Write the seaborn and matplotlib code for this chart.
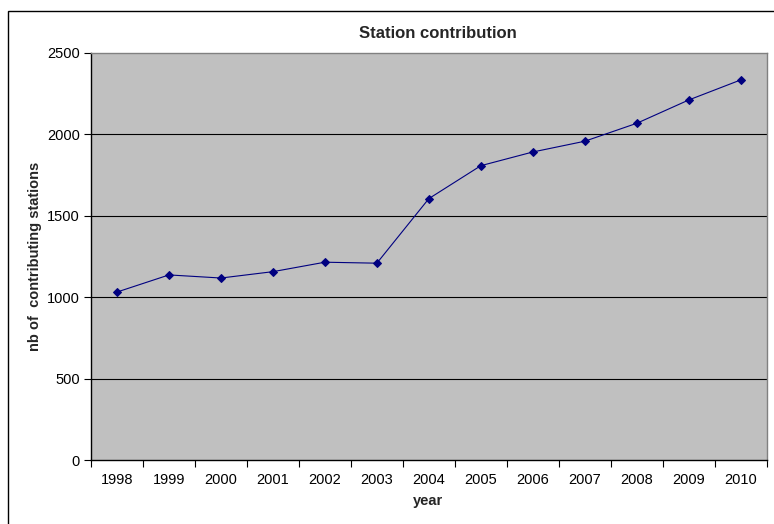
import matplotlib
matplotlib.use("Agg")
import matplotlib.pyplot as plt
from matplotlib.patches import Rectangle
from matplotlib.ticker import FixedLocator
import seaborn as sns
import pandas as pd

# Number of contributing stations per year
years = [1998, 1999, 2000, 2001, 2002, 2003, 2004, 2005, 2006, 2007, 2008, 2009, 2010]
stations = [1032, 1137, 1118, 1157, 1215, 1209, 1605, 1807, 1891, 1957, 2067, 2210, 2333]
y_ticks = [0, 500, 1000, 1500, 2000, 2500]

df = pd.DataFrame({"year": years, "stations": stations})

sns.set_theme(style="white")
plt.rcParams["font.family"] = ["Liberation Sans", "DejaVu Sans"]

W, H = 774, 524
fig = plt.figure(figsize=(W / 100, H / 100), dpi=100)
ax = fig.add_axes([91 / W, 1 - 460.3 / H, (766.7 - 91) / W, (460.3 - 52.7) / H])
ax.set_facecolor("#C0C0C0")

# horizontal grid lines
for v in y_ticks[1:-1]:
    ax.axhline(v, color="black", lw=0.8, zorder=1)

sns.lineplot(data=df, x="year", y="stations", ax=ax, color="#000080",
             marker="D", markersize=4.5, markeredgecolor="#000080",
             linewidth=0.8, zorder=3)

ax.set_xlim(years[0] - 0.5, years[-1] + 0.5)
ax.set_ylim(y_ticks[0], y_ticks[-1])

ax.set_xticks(years)
ax.set_xticklabels([str(y) for y in years])
ax.xaxis.set_minor_locator(FixedLocator([y - 0.5 for y in years] + [years[-1] + 0.5]))
ax.tick_params(axis="x", which="major", length=0, pad=9, labelsize=10.5, colors="black")
ax.tick_params(axis="x", which="minor", bottom=True, length=5, width=0.8, color="black", direction="out")

ax.set_yticks(y_ticks)
ax.tick_params(axis="y", which="major", left=True, length=5, width=0.8, pad=3,
               labelsize=10.5, colors="black", direction="out")

for side in ("left", "bottom"):
    ax.spines[side].set_color("black")
    ax.spines[side].set_linewidth(1.0)
for side in ("top", "right"):
    ax.spines[side].set_color("#808080")
    ax.spines[side].set_linewidth(1.0)
    ax.spines[side].set_visible(True)
ax.spines["left"].set_visible(True)
ax.spines["bottom"].set_visible(True)

ax.set_xlabel("")
ax.set_ylabel("")
fig.text(428 / W, 1 - 501 / H, "year", ha="center", va="center",
         fontsize=10.5, fontweight="bold")
fig.text(35 / W, 1 - 256 / H, "nb of  contributing stations", ha="center", va="center",
         rotation=90, fontsize=10.5, fontweight="bold")
fig.text(438 / W, 1 - 34 / H, "Station contribution", ha="center", va="center",
         fontsize=12, fontweight="bold")

# chart border
fig.patches.append(Rectangle((8 / W, -0.05), 1.1, 1 - 11 / H + 0.05,
                             transform=fig.transFigure, fill=False,
                             edgecolor="black", linewidth=1.0))

fig.savefig("out.png", dpi=100, facecolor="white")
